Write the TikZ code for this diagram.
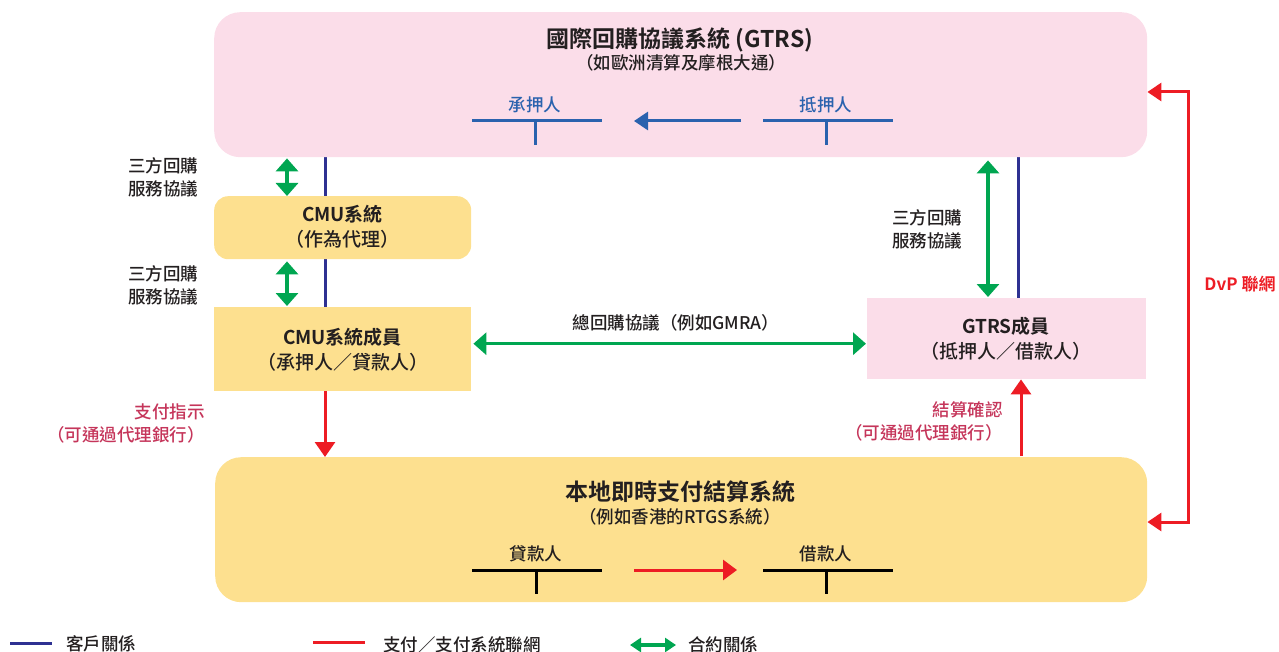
\documentclass[tikz,border=0pt]{standalone}
\usepackage{fontspec}
\setmainfont{Noto Sans CJK TC}[UprightFont=* Medium,BoldFont=* Bold]
\usetikzlibrary{arrows.meta,calc}
\definecolor{pinkbg}{HTML}{FBDDE9}
\definecolor{yellowbg}{HTML}{FDE08F}
\definecolor{navy}{HTML}{2E3192}
\definecolor{gr}{HTML}{00A651}
\definecolor{rd}{HTML}{ED1C24}
\definecolor{crim}{HTML}{C5355A}
\definecolor{bl}{HTML}{2A62AE}
\definecolor{txt}{HTML}{231F20}
\tikzset{
  box/.style={draw=none,inner sep=0pt,anchor=north west},
  lbl/.style={text=txt,font=\fontsize{17.5}{23}\selectfont,align=center,inner sep=0pt},
  boxtxt/.style={text=txt,font=\fontsize{19}{25}\selectfont\bfseries,align=center,inner sep=0pt},
  client/.style={draw=navy,line width=3pt},
  greenarrow/.style={draw=gr,line width=3.5pt,{Triangle[width=22pt,length=13pt]}-{Triangle[width=22pt,length=13pt]}},
  redarrow/.style={draw=rd,line width=3pt,-{Triangle[width=20pt,length=15pt]}},
  tline/.style={line width=3pt},
}
\begin{document}
\begin{tikzpicture}[x=1pt,y=-1pt]
\useasboundingbox (0,0) rectangle (1279,652);
% client relationship lines (behind boxes)
\coordinate (c1) at (325,155);
\coordinate (c2) at (325,309);
\draw[client] (c1) -- (c2);
\coordinate (c3) at (1018,155);
\coordinate (c4) at (1018,300);
\draw[client] (c3) -- (c4);
% boxes
\node[box,fill=pinkbg,rounded corners=26pt,minimum width=933pt,minimum height=145pt] (gtrs) at (214,12) {};
\node[box,fill=yellowbg,rounded corners=14pt,minimum width=257pt,minimum height=63pt] (cmu) at (214,196) {};
\node[box,fill=yellowbg,minimum width=257pt,minimum height=84pt] (cmumem) at (214,307) {};
\node[box,fill=pinkbg,minimum width=279pt,minimum height=81pt] (gtrsmem) at (867,298) {};
\node[box,fill=yellowbg,rounded corners=26pt,minimum width=932pt,minimum height=145pt] (rtgs) at (215,457) {};
% GTRS texts
\node[text=txt,font=\fontsize{23}{28}\selectfont\bfseries,inner sep=0pt] (t1) at (680,40) {國際回購協議系統 (GTRS)};
\node[text=txt,font=\fontsize{17.5}{20}\selectfont,inner sep=0pt] (t2) at (681,63) {（如歐洲清算及摩根大通）};
\node[text=bl,font=\fontsize{17.5}{20}\selectfont,inner sep=0pt] (cp) at (535,105) {承押人};
\node[text=bl,font=\fontsize{17.5}{20}\selectfont,inner sep=0pt] (pl) at (826,105) {抵押人};
\coordinate (a1) at (472,121); \coordinate (a2) at (602,121);
\coordinate (a3) at (535,121); \coordinate (a4) at (535,145);
\draw[tline,draw=bl] (a1) -- (a2); \draw[tline,draw=bl] (a3) -- (a4);
\coordinate (b1) at (763,121); \coordinate (b2) at (893,121);
\coordinate (b3) at (826,121); \coordinate (b4) at (826,145);
\draw[tline,draw=bl] (b1) -- (b2); \draw[tline,draw=bl] (b3) -- (b4);
\coordinate (ba1) at (741,121); \coordinate (ba2) at (634,121);
\draw[draw=bl,line width=3pt,-{Triangle[width=18pt,length=14pt]}] (ba1) -- (ba2);
% CMU
\node[boxtxt] (cmut) at (342.5,227) {CMU系統\\\mdseries（作為代理）};
\node[boxtxt] (cmumt) at (342.5,350) {CMU系統成員\\\mdseries（承押人／貸款人）};
\node[boxtxt] (gtrsmt) at (1006,338.5) {GTRS成員\\\mdseries（抵押人／借款人）};
% green arrows
\draw[greenarrow] (gtrs.south -| 287,0) ++(0,1) -- (cmu.north -| 287,0);
\draw[greenarrow] (cmu.south -| 287,0) ++(0,2) -- ($(cmumem.north -| 287,0)+(0,-1)$);
\draw[greenarrow] (gtrs.south -| 988,0) ++(0,3) -- ($(gtrsmem.north -| 988,0)+(0,-1)$);
\draw[greenarrow] ($(cmumem.east)+(2,-5.5)$) -- ($(gtrsmem.west |- cmumem.east)+(-1,-5.5)$);
\node[lbl] (l1) at (163,177) {三方回購\\服務協議};
\node[lbl] (l2) at (163,285) {三方回購\\服務協議};
\node[lbl] (l3) at (927,229) {三方回購\\服務協議};
\node[lbl] (l4) at (676,323) {總回購協議（例如GMRA）};
% red arrows
\draw[redarrow] (cmumem.south -| 325,0) -- (rtgs.north -| 325,0);
\draw[redarrow] (rtgs.north -| 1021,0) ++(0,-1) -- (gtrsmem.south -| 1021,0);
\node[lbl,text=crim,align=right,anchor=east] (l5) at (205,423) {支付指示\\（可通過代理銀行）};
\node[lbl,text=crim,align=right,anchor=east] (l6) at (1003,421) {結算確認\\（可通過代理銀行）};
% DvP
\coordinate (d1) at (1188,92); \coordinate (d2) at (1188,522);
\draw[draw=rd,line width=3pt,{Triangle[width=18pt,length=14pt]}-{Triangle[width=18pt,length=14pt]}] (gtrs.east |- d1) -- (d1) -- (d2) -- (rtgs.east |- d2);
\node[lbl,text=rd,font=\fontsize{17}{20}\selectfont\bfseries] (dvp) at (1240,284) {DvP 聯網};
% RTGS texts
\node[text=txt,font=\fontsize{23}{28}\selectfont\bfseries,inner sep=0pt] (r1) at (680,492) {本地即時支付結算系統};
\node[text=txt,font=\fontsize{17.5}{20}\selectfont,inner sep=0pt] (r2) at (680,517) {（例如香港的RTGS系統）};
\node[text=txt,font=\fontsize{17.5}{20}\selectfont,inner sep=0pt] (ln) at (536,554) {貸款人};
\node[text=txt,font=\fontsize{17.5}{20}\selectfont,inner sep=0pt] (br) at (826,554) {借款人};
\coordinate (e1) at (472,570); \coordinate (e2) at (602,570);
\coordinate (e3) at (536,570); \coordinate (e4) at (536,594);
\draw[tline] (e1) -- (e2); \draw[tline] (e3) -- (e4);
\coordinate (f1) at (763,570); \coordinate (f2) at (893,570);
\coordinate (f3) at (826,570); \coordinate (f4) at (826,594);
\draw[tline] (f1) -- (f2); \draw[tline] (f3) -- (f4);
\coordinate (ra1) at (634,570); \coordinate (ra2) at (737,570);
\draw[redarrow,-{Triangle[width=20pt,length=14pt]}] (ra1) -- (ra2);
% legend
\coordinate (g1) at (10,643); \coordinate (g2) at (52,643);
\draw[client] (g1) -- (g2);
\node[lbl,anchor=west] (lg1) at (66,644) {客戶關係};
\coordinate (g3) at (313,642); \coordinate (g4) at (365,642);
\draw[draw=rd,line width=3pt] (g3) -- (g4);
\node[lbl,anchor=west] (lg2) at (383,645) {支付／支付系統聯網};
\coordinate (g5) at (630,645); \coordinate (g6) at (676,645);
\draw[draw=gr,line width=3.5pt,{Triangle[width=14pt,length=11pt]}-{Triangle[width=14pt,length=11pt]}] (g5) -- (g6);
\node[lbl,anchor=west] (lg3) at (688,645) {合約關係};
\end{tikzpicture}
\end{document}
